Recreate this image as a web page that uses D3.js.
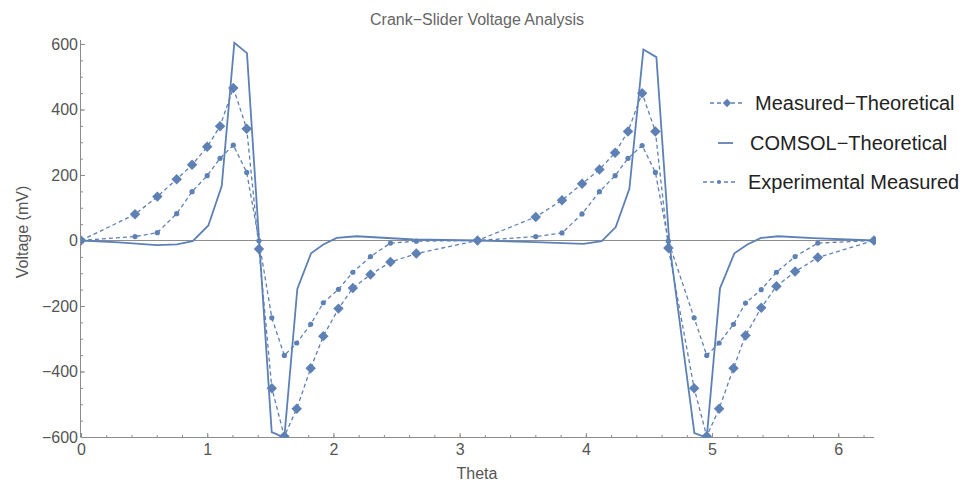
<!DOCTYPE html>
<html>
<head>
<meta charset="utf-8">
<script src="https://cdn.jsdelivr.net/npm/d3@7"></script>
<style>
  body { margin: 0; background: #fff; }
  svg { font-family: "Liberation Sans", Arial, sans-serif; }
</style>
</head>
<body>
<script>
// theta values shared by the two measured series
const theta = [0, 0.428, 0.605, 0.758, 0.88, 1.0, 1.102, 1.207, 1.313, 1.41, 1.512, 1.611, 1.709, 1.82, 1.92, 2.04, 2.154, 2.294, 2.452, 2.657,
  3.1416, 3.603, 3.811, 3.97, 4.108, 4.232, 4.334, 4.446, 4.551, 4.654, 4.858, 4.958, 5.056, 5.17, 5.265, 5.39, 5.51, 5.658, 5.838, 6.2832];
const measuredTheo = [0, 80, 134, 187, 231, 286, 349, 466, 341, -26, -451, -598, -514, -390, -292, -208, -145, -104, -66, -40,
  0, 72, 123, 173, 217, 268, 333, 450, 333, -23, -451, -598, -514, -390, -290, -205, -140, -95, -52, 0];
const experimental = [0, 12, 24, 82, 149, 198, 251, 291, 208, -1, -236, -351, -313, -256, -190, -149, -97, -49, -8, -2,
  0, 12, 23, 81, 149, 198, 251, 290, 208, -2, -236, -351, -313, -256, -191, -150, -97, -49, -8, 0];

const comsolTheta = [0, 0.3, 0.6, 0.76, 0.885, 1.009, 1.115, 1.215, 1.315, 1.413, 1.511, 1.611, 1.714, 1.823, 1.92, 2.026, 2.184, 2.633,
  3.1416, 3.6, 3.98, 4.126, 4.237, 4.345, 4.456, 4.559, 4.662, 4.86, 4.958, 5.063, 5.177, 5.28, 5.388, 5.525, 5.803, 6.2832];
const comsol = [0, -6, -14, -12, -2, 46, 166, 604, 572, -10, -585, -602, -148, -39, -12, 8, 13, 3,
  0, -5, -10, -2, 41, 158, 583, 560, -10, -588, -602, -146, -39, -12, 8, 13, 7, 0];

const xTicks = [0, 1, 2, 3, 4, 5, 6];
const yTicks = [-600, -400, -200, 0, 200, 400, 600];
const legendNames = ["Measured\u2212Theoretical", "COMSOL\u2212Theoretical", "Experimental Measured"];

const width = 974, height = 483;
const blue = "#5e81b5";
const axisGray = "#8c8c8c";
const textGray = "#555";

const svg = d3.select("body").append("svg")
  .attr("width", width)
  .attr("height", height);

const x = d3.scaleLinear().domain([0, 2 * Math.PI]).range([81, 874]);
const y = d3.scaleLinear().domain([-600, 600]).range([437, 44]);

svg.append("defs").append("clipPath").attr("id", "plot")
  .append("rect").attr("x", 81).attr("y", 36).attr("width", 795).attr("height", 402);

// zero line
svg.append("line")
  .attr("x1", x(0)).attr("x2", x(2 * Math.PI))
  .attr("y1", y(0)).attr("y2", y(0))
  .attr("stroke", axisGray).attr("stroke-width", 1);

// axes, ticks pointing into the plot
const xAxis = d3.axisBottom(x).tickValues(xTicks).tickSize(-4).tickPadding(7).tickFormat(d3.format("d"));
const xMinor = d3.axisBottom(x).tickValues(d3.range(0, 6.3, 0.2)).tickSize(-2).tickFormat("");
const yAxis = d3.axisLeft(y).tickValues(yTicks).tickSize(-4).tickPadding(3).tickFormat(d => d < 0 ? "\u2212" + (-d) : d);
const yMinor = d3.axisLeft(y).tickValues(d3.range(-600, 601, 50)).tickSize(-2).tickFormat("");

const styleAxis = g => {
  g.select(".domain").remove();
  g.selectAll("line").attr("stroke", axisGray);
  g.selectAll("text").attr("fill", textGray).style("font-size", "16px");
};

svg.append("g").attr("transform", `translate(0,437)`).call(xMinor).call(styleAxis);
svg.append("g").attr("transform", `translate(0,437)`).call(xAxis).call(styleAxis);
svg.append("g").attr("transform", `translate(81,0)`).call(yMinor).call(styleAxis);
svg.append("g").attr("transform", `translate(81,0)`).call(yAxis).call(styleAxis);

svg.append("line").attr("x1", 81).attr("x2", 874).attr("y1", 437.5).attr("y2", 437.5).attr("stroke", axisGray);
svg.append("line").attr("x1", 80.5).attr("x2", 80.5).attr("y1", 40).attr("y2", 437.5).attr("stroke", axisGray);

const line = d3.line().x(d => x(d[0])).y(d => y(d[1]));
const plot = svg.append("g").attr("clip-path", "url(#plot)");

const mtData = theta.map((t, i) => [t, measuredTheo[i]]);
const exData = theta.map((t, i) => [t, experimental[i]]);
const coData = comsolTheta.map((t, i) => [t, comsol[i]]);

plot.append("path").datum(exData).attr("d", line)
  .attr("fill", "none").attr("stroke", blue).attr("stroke-width", 1.3).attr("stroke-dasharray", "4,3");
plot.append("path").datum(mtData).attr("d", line)
  .attr("fill", "none").attr("stroke", blue).attr("stroke-width", 1.3).attr("stroke-dasharray", "4,3");
plot.append("path").datum(coData).attr("d", line)
  .attr("fill", "none").attr("stroke", blue).attr("stroke-width", 1.8);

const diamond = d3.symbol().type(d3.symbolDiamond2).size(70);
plot.selectAll(".mt").data(mtData).enter().append("path")
  .attr("class", "mt")
  .attr("d", diamond)
  .attr("transform", d => `translate(${x(d[0])},${y(d[1])})`)
  .attr("fill", blue);

plot.selectAll(".ex").data(exData).enter().append("circle")
  .attr("class", "ex")
  .attr("cx", d => x(d[0])).attr("cy", d => y(d[1]))
  .attr("r", 2.6)
  .attr("fill", blue);

// titles
svg.append("text").attr("x", 477).attr("y", 25).attr("text-anchor", "middle")
  .attr("fill", "#666").style("font-size", "16px").text("Crank\u2212Slider Voltage Analysis");
svg.append("text").attr("x", 477).attr("y", 479).attr("text-anchor", "middle")
  .attr("fill", textGray).style("font-size", "16px").text("Theta");
svg.append("text").attr("transform", "translate(28,232) rotate(-90)").attr("text-anchor", "middle")
  .attr("fill", textGray).style("font-size", "16px").text("Voltage (mV)");

// legend
const legend = svg.append("g").attr("transform", "translate(0,103)");
const rows = legend.selectAll("g").data(legendNames).enter().append("g")
  .attr("transform", (d, i) => `translate(0,${[0, 40, 79][i]})`);
rows.append("line")
  .attr("x1", (d, i) => [710, 718, 703][i]).attr("x2", (d, i) => [742, 733, 735][i])
  .attr("y1", 0).attr("y2", 0)
  .attr("stroke", blue).attr("stroke-width", (d, i) => i === 1 ? 1.8 : 1.3)
  .attr("stroke-dasharray", (d, i) => i === 1 ? null : "4,3");
rows.filter((d, i) => i === 0).append("path")
  .attr("d", d3.symbol().type(d3.symbolDiamond2).size(45)).attr("transform", "translate(727,0)").attr("fill", blue);
rows.filter((d, i) => i === 2).append("circle")
  .attr("cx", 719).attr("cy", 0).attr("r", 2).attr("fill", blue);
rows.append("text")
  .attr("x", (d, i) => [755, 750, 748][i]).attr("y", 7)
  .attr("fill", "#222").style("font-size", "20px").text(d => d);
</script>
</body>
</html>
